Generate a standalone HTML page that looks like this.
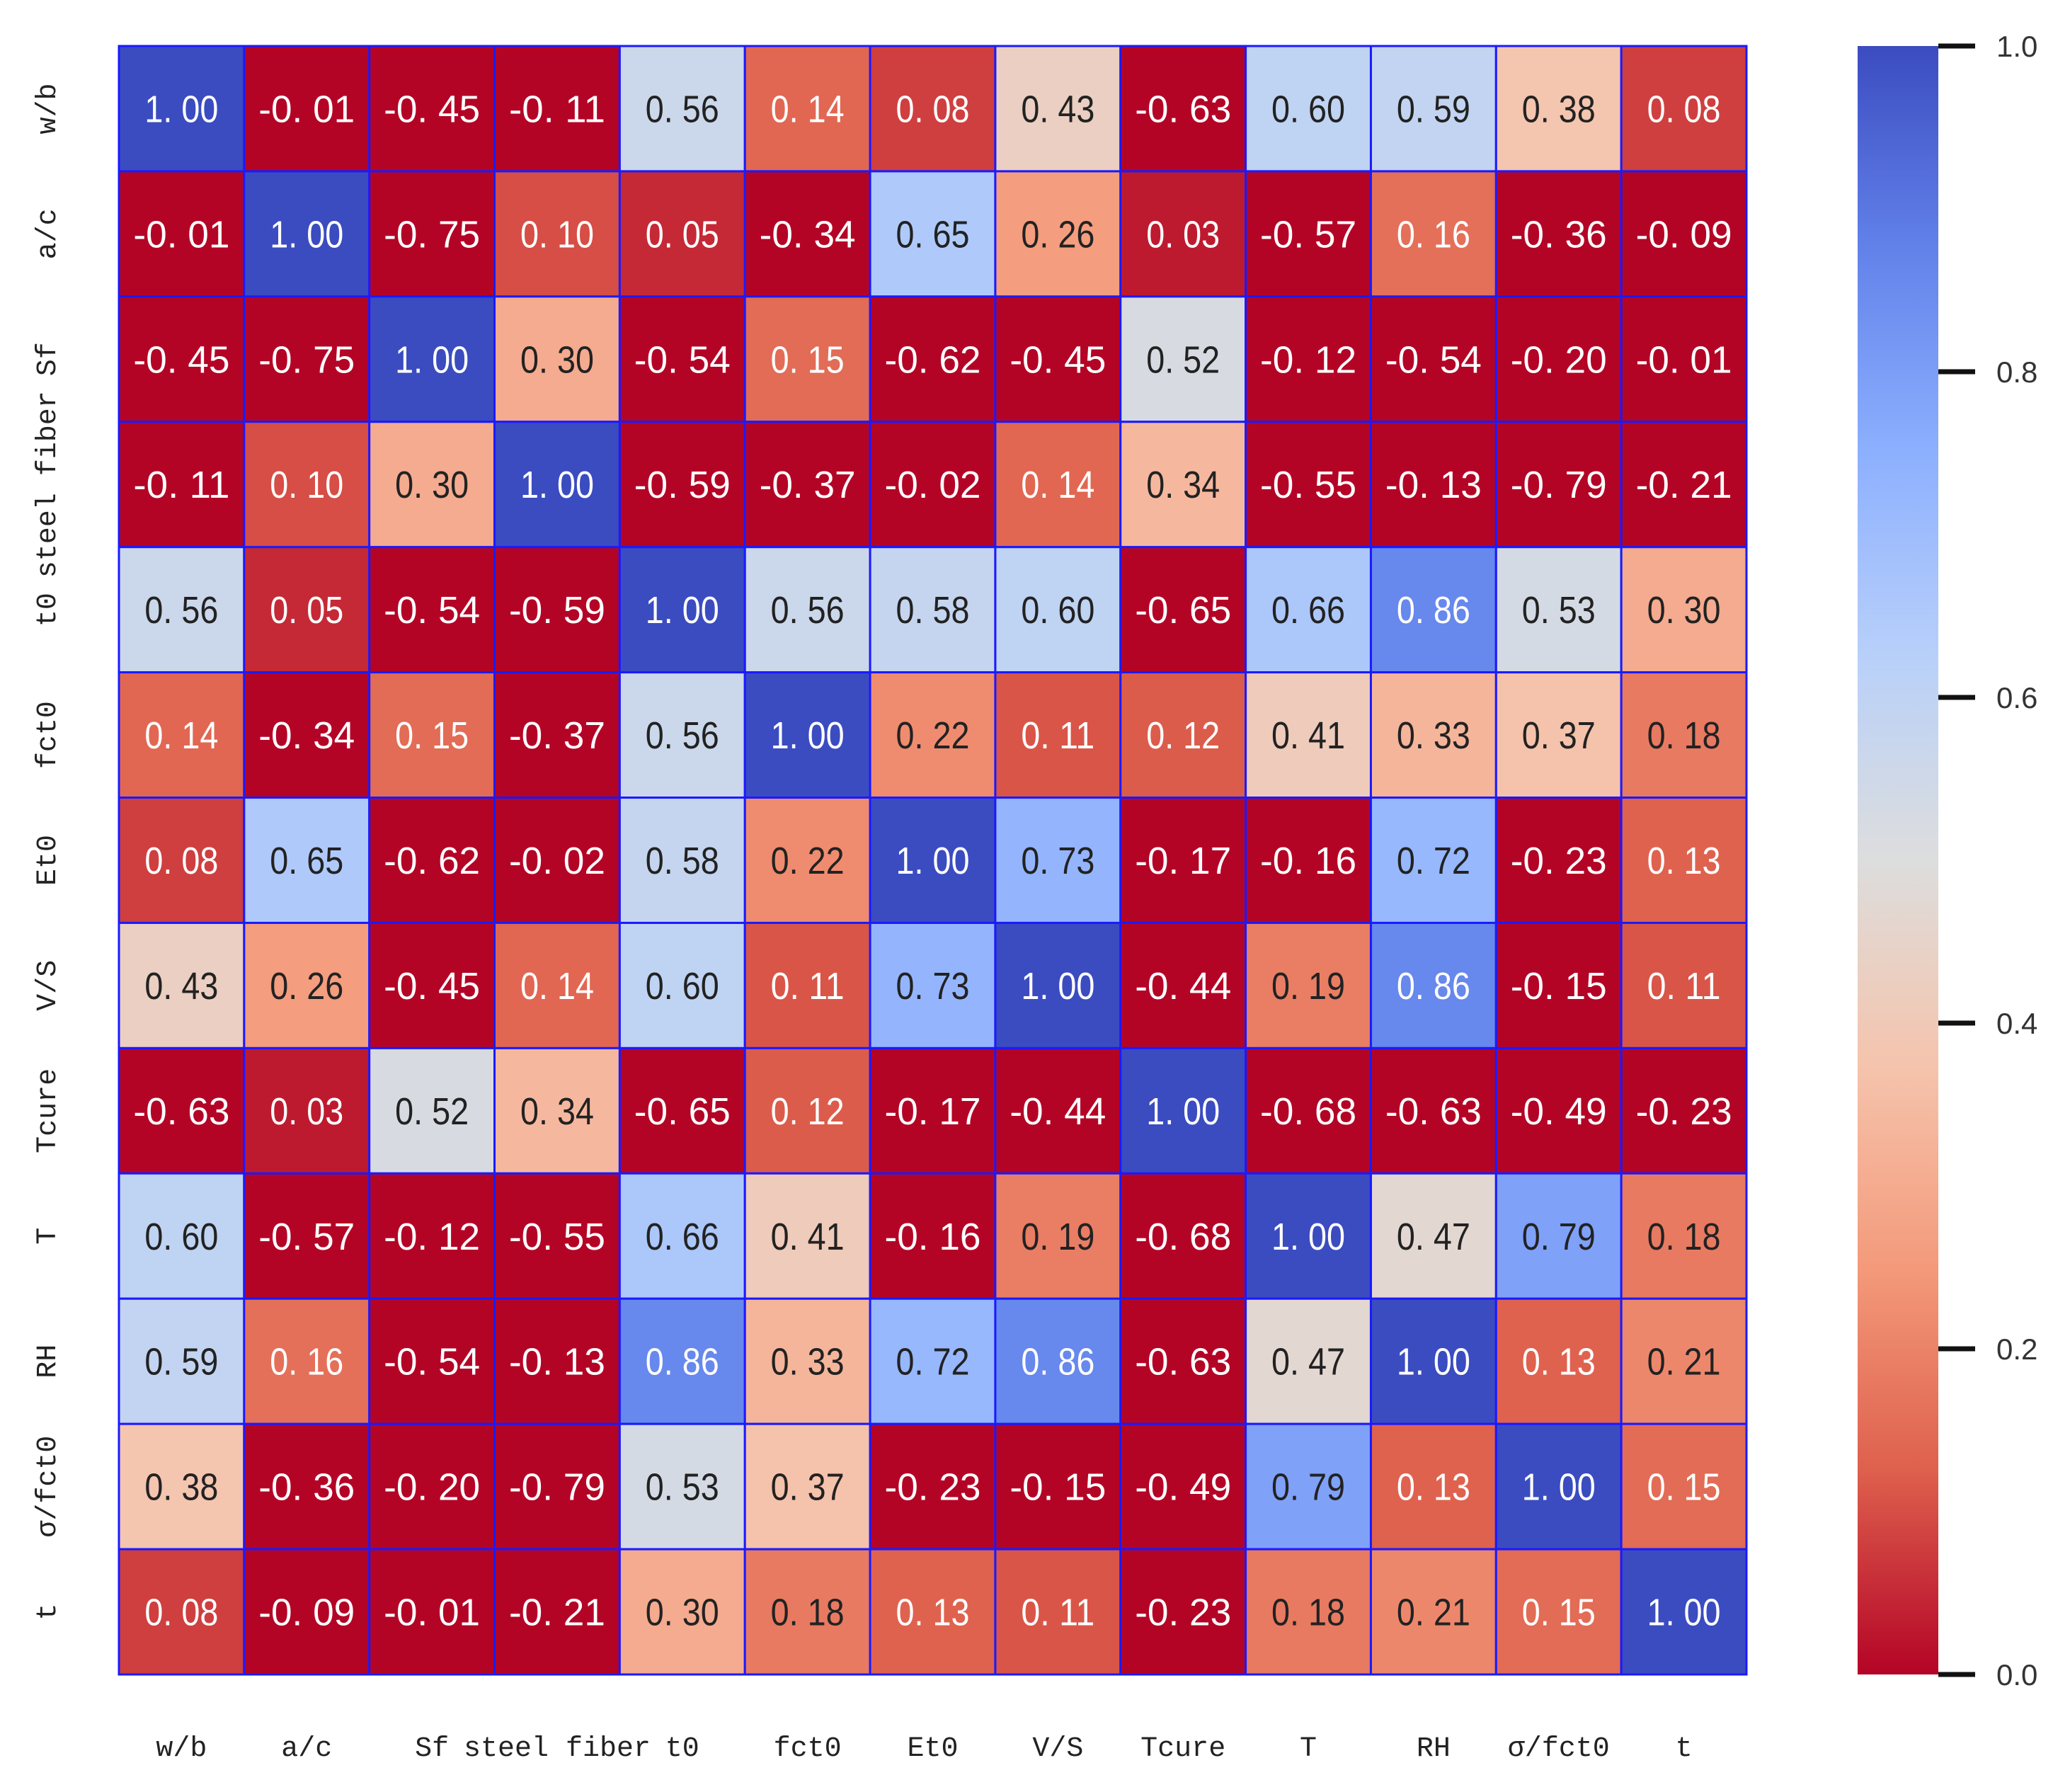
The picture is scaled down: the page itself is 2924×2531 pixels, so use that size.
<!DOCTYPE html>
<html><head><meta charset="utf-8">
<style>
html,body{margin:0;padding:0;background:#fff;}
svg{display:block;}
</style></head>
<body>
<svg id="chart" xmlns="http://www.w3.org/2000/svg" width="2924" height="2531" viewBox="0 0 2924 2531">
<defs><linearGradient id="cbgrad" x1="0" y1="1" x2="0" y2="0"></linearGradient></defs>
<g id="cells"></g>
<g id="ylabels"></g>
<g id="xlabels"></g>
<g id="colorbar"></g>
</svg>
<script>
const labels = ["w/b","a/c","Sf","steel fiber","t0","fct0","Et0","V/S","Tcure","T","RH","σ/fct0","t"];
const row0 = [1.00,-0.01,-0.45,-0.11,0.56,0.14,0.08,0.43,-0.63,0.60,0.59,0.38,0.08];
const row1 = [-0.01,1.00,-0.75,0.10,0.05,-0.34,0.65,0.26,0.03,-0.57,0.16,-0.36,-0.09];
const row2 = [-0.45,-0.75,1.00,0.30,-0.54,0.15,-0.62,-0.45,0.52,-0.12,-0.54,-0.20,-0.01];
const row3 = [-0.11,0.10,0.30,1.00,-0.59,-0.37,-0.02,0.14,0.34,-0.55,-0.13,-0.79,-0.21];
const row4 = [0.56,0.05,-0.54,-0.59,1.00,0.56,0.58,0.60,-0.65,0.66,0.86,0.53,0.30];
const row5 = [0.14,-0.34,0.15,-0.37,0.56,1.00,0.22,0.11,0.12,0.41,0.33,0.37,0.18];
const row6 = [0.08,0.65,-0.62,-0.02,0.58,0.22,1.00,0.73,-0.17,-0.16,0.72,-0.23,0.13];
const row7 = [0.43,0.26,-0.45,0.14,0.60,0.11,0.73,1.00,-0.44,0.19,0.86,-0.15,0.11];
const row8 = [-0.63,0.03,0.52,0.34,-0.65,0.12,-0.17,-0.44,1.00,-0.68,-0.63,-0.49,-0.23];
const row9 = [0.60,-0.57,-0.12,-0.55,0.66,0.41,-0.16,0.19,-0.68,1.00,0.47,0.79,0.18];
const row10 = [0.59,0.16,-0.54,-0.13,0.86,0.33,0.72,0.86,-0.63,0.47,1.00,0.13,0.21];
const row11 = [0.38,-0.36,-0.20,-0.79,0.53,0.37,-0.23,-0.15,-0.49,0.79,0.13,1.00,0.15];
const row12 = [0.08,-0.09,-0.01,-0.21,0.30,0.18,0.13,0.11,-0.23,0.18,0.21,0.15,1.00];
const matrix = [row0,row1,row2,row3,row4,row5,row6,row7,row8,row9,row10,row11,row12];
const cbTicks = [0.0,0.2,0.4,0.6,0.8,1.0];

const NS="http://www.w3.org/2000/svg";
const L=168, R=2467, T=65, B=2365;
const n=labels.length, cw=(R-L)/n, ch=(B-T)/n;
const xPos=i=>L+i*cw, yPos=i=>T+i*ch;
const vmin=0, vmax=1;
const cm=[[59,76,192],[98,130,234],[141,176,254],[184,208,249],[221,221,221],[245,196,173],[244,154,123],[222,96,77],[180,4,38]];
function coolwarm(t){t=Math.max(0,Math.min(1,t));const p=t*8,i=Math.min(7,Math.floor(p)),f=p-i;const a=cm[i],b=cm[i+1];return [0,1,2].map(k=>Math.round(a[k]+(b[k]-a[k])*f));}
function color(v){return coolwarm(1-(v-vmin)/(vmax-vmin));}
function mk(tag,attrs,parent){const e=document.createElementNS(NS,tag);for(const k in attrs)e.setAttribute(k,attrs[k]);parent.appendChild(e);return e;}
const cells=document.getElementById('cells');
matrix.forEach((row,r)=>row.forEach((v,c)=>{
  const col=color(v);
  const rect=mk('rect',{x:xPos(c),y:yPos(r),width:cw,height:ch,fill:`rgb(${col})`,stroke:'#1a1aff','stroke-width':3},cells);
  
  
  const lum=(0.299*col[0]+0.587*col[1]+0.114*col[2]);
  const tl=v<0?136:104;
  const t=mk('text',{x:xPos(c)+cw/2-tl/2,y:yPos(r)+ch/2+19,'font-family':'Liberation Sans, sans-serif','font-size':54,textLength:tl,lengthAdjust:'spacingAndGlyphs',fill:lum<150?'#fff':'#222'},cells);
  
  
  t.textContent=v.toFixed(2).replace('.', '. ');
}));
const yl=document.getElementById('ylabels'), xl=document.getElementById('xlabels');
labels.forEach((lab,i)=>{
  const cy=yPos(i)+ch/2;
  const t=mk('text',{x:0,y:0,transform:`translate(78,${cy}) rotate(-90)`,'text-anchor':'middle','font-family':'Liberation Mono, monospace','font-size':40,fill:'#222'},yl);
  
  
  t.textContent=lab;
  const tx=mk('text',{x:xPos(i)+cw/2,y:2480,'text-anchor':'middle','font-family':'Liberation Mono, monospace','font-size':40,fill:'#222'},xl);
  
  
  tx.textContent=lab;
});
const grad=document.getElementById('cbgrad');
for(let k=0;k<=16;k++){const c=color(k/16);mk('stop',{offset:(k/16*100)+'%','stop-color':`rgb(${c})`},grad);}
const cb=document.getElementById('colorbar');
const cbL=2624, cbR=2738;
const cbY=v=>B-(v-vmin)/(vmax-vmin)*(B-T);
const bar=mk('rect',{x:cbL,y:T,width:cbR-cbL,height:B-T,fill:'url(#cbgrad)'},cb);


cbTicks.forEach(v=>{
  const y=cbY(v);
  const l=mk('line',{x1:cbR,x2:cbR+52,y1:y,y2:y,stroke:'#111','stroke-width':7},cb);
  
  
  const t=mk('text',{x:cbR+82,y:y+15,'font-family':'Liberation Sans, sans-serif','font-size':42,fill:'#333'},cb);
  
  
  t.textContent=v.toFixed(1);
});
</script>
</body></html>
